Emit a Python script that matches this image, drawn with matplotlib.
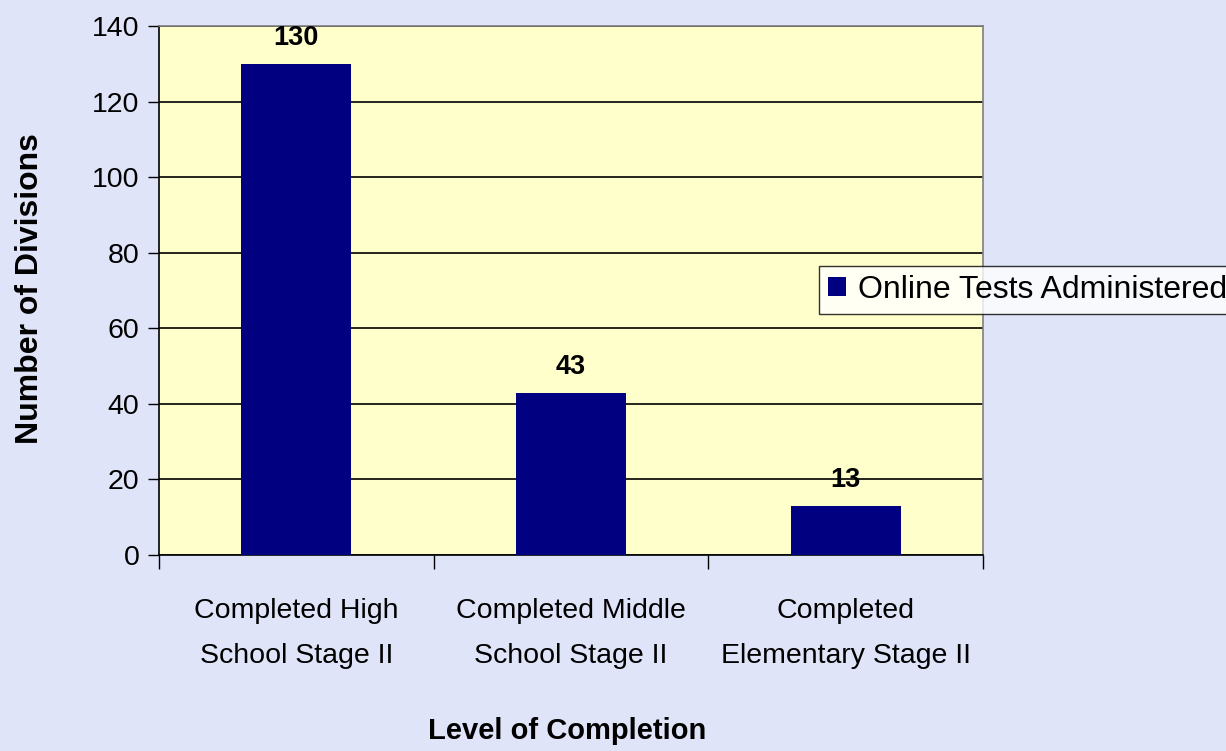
import matplotlib
matplotlib.use("Agg")
import matplotlib.pyplot as plt

categories = ["Completed High\nSchool Stage II", "Completed Middle\nSchool Stage II", "Completed\nElementary Stage II"]
values = [130, 43, 13]
series_name = "Online Tests Administered"
yticks = [0, 20, 40, 60, 80, 100, 120, 140]

fam = ["Liberation Sans", "DejaVu Sans"]

fig = plt.figure(figsize=(12.26, 7.51), dpi=100, facecolor="#E0E4F8")
ax = fig.add_axes([159/1226, 1-555/751, (983-159)/1226, (555-26)/751])
ax.set_facecolor("#FFFFCC")

x = [i + 0.5 for i in range(len(values))]
bars = ax.bar(x, values, width=0.40, color="#000080", label=series_name, zorder=3)
ax.set_xlim(0, 3)
ax.set_ylim(0, 140)
ax.set_yticks(yticks)
ax.set_yticklabels([str(t) for t in yticks], family=fam, fontsize=20.5)
ax.yaxis.grid(True, color="black", linewidth=1.2, zorder=1)
ax.set_axisbelow(True)

ax.set_xticks([0, 1, 2, 3])
ax.set_xticklabels([])
ax.tick_params(axis="x", length=10, width=1, direction="out", color="black")
ax.tick_params(axis="y", length=8, width=1, direction="out", color="black", pad=6)
ax.set_xticks(x, minor=True)
ax.set_xticklabels(categories, minor=True, family=fam, fontsize=20.5, linespacing=1.95)
ax.tick_params(axis="x", which="minor", length=0, pad=31)

for s in ["left", "bottom"]:
    ax.spines[s].set_color("black")
    ax.spines[s].set_linewidth(1.2)
for s in ["top", "right"]:
    ax.spines[s].set_color("#808080")
    ax.spines[s].set_linewidth(1.2)

for xi, v in zip(x, values):
    ax.annotate(str(v), (xi, v), xytext=(0, 9), textcoords="offset points",
                ha="center", va="bottom", family=fam, fontsize=19.5,
                fontweight="bold", color="black")

fig.text(30/1226, 1-289/751, "Number of Divisions", rotation=90, ha="center", va="center",
         family=fam, fontsize=23, fontweight="bold")
fig.text(567/1226, 1-731/751, "Level of Completion", ha="center", va="center",
         family=fam, fontsize=21, fontweight="bold")

leg = fig.legend(handles=[bars], labels=[series_name], loc="center left",
                 bbox_to_anchor=(819/1226, 1-290/751), frameon=True, fancybox=False,
                 prop={"family": fam, "size": 23},
                 handlelength=0.55, handleheight=0.55, handletextpad=0.4,
                 borderpad=0.28, borderaxespad=0)
leg.get_frame().set_edgecolor("black")
leg.get_frame().set_linewidth(1.0)
leg.get_frame().set_facecolor("white")

fig.savefig("out.png", dpi=100, facecolor=fig.get_facecolor())
